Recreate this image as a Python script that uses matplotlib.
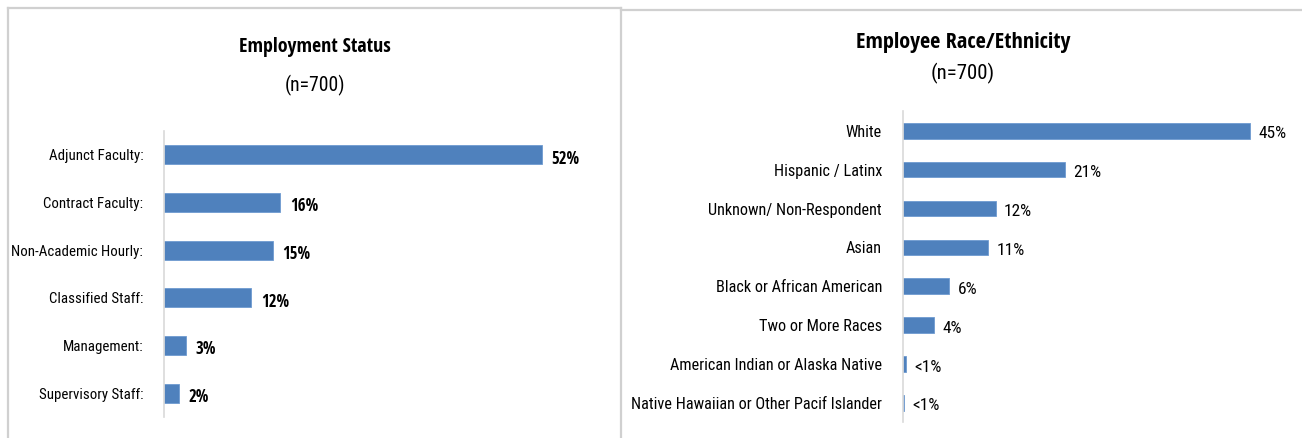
import matplotlib
matplotlib.use("Agg")
import math
import matplotlib.pyplot as plt
from matplotlib import font_manager
from matplotlib.font_manager import FontProperties
from matplotlib.lines import Line2D

# data
status_labels = ["Adjunct Faculty:", "Contract Faculty:", "Non-Academic Hourly:",
                 "Classified Staff:", "Management:", "Supervisory Staff:"]
status_values = [52, 16, 15, 12, 3, 2]
status_text = ["52%", "16%", "15%", "12%", "3%", "2%"]

race_labels = ["White", "Hispanic / Latinx", "Unknown/ Non-Respondent", "Asian",
               "Black or African American", "Two or More Races",
               "American Indian or Alaska Native", "Native Hawaiian or Other Pacif Islander"]
race_values = [45, 21, 12, 11, 6, 4, 0.4, 0.15]
race_text = ["45%", "21%", "12%", "11%", "6%", "4%", "<1%", "<1%"]

bar_color = "#4F81BD"
axis_grey = "#d9d9d9"

fig = plt.figure(figsize=(13.02, 4.38), dpi=100)
rend = fig.canvas.get_renderer()


def wt(f):
    w = f.weight
    if isinstance(w, str):
        w = {"normal": 400, "regular": 400, "book": 400, "bold": 700}.get(w, 500)
    return w


# only plain sans families (and their narrow / condensed cuts)
bases = ("Liberation Sans", "DejaVu Sans", "Noto Sans", "Roboto", "Open Sans", "Lato", "Inter")


def ok_name(n):
    if n in bases:
        return True
    return n.startswith(bases) and ("Condensed" in n or "Narrow" in n) and "Mono" not in n


fonts = font_manager.fontManager.ttflist
pool = [f for f in fonts if f.style == "normal" and ok_name(f.name)
        and f.fname.lower().endswith((".ttf", ".otf"))]
regs = [f for f in pool if wt(f) == 400]
bolds = [f for f in pool if wt(f) == 700]


def width_at10(s, fname):
    t = fig.text(0, 0, s, fontproperties=FontProperties(fname=fname, size=10))
    w = t.get_window_extent(rend).width
    t.remove()
    return w


def pick(cands, s, px, target, fallback):
    # font whose width-fitted size is closest to the size read from the cap height
    best, best_d = fallback, 1e9
    for f in cands:
        try:
            w = width_at10(s, f.fname)
        except Exception:
            continue
        if w <= 0:
            continue
        d = abs(math.log(10 * px / w / target))
        if d < best_d:
            best, best_d = f.fname, d
    return best


dv = font_manager.findfont("DejaVu Sans")
dvb = font_manager.findfont(FontProperties(family="DejaVu Sans", weight="bold"))
reg_file = pick(regs, "Non-Academic Hourly:", 130, 12.5, dv)
bold_file = pick(bolds, "Employment Status", 151, 15.5, dvb)


def fitprops(fname, s, px, cap):
    size = min(10 * px / width_at10(s, fname), cap)
    return FontProperties(fname=fname, size=size)


lab1 = fitprops(reg_file, "Non-Academic Hourly:", 130, 13)
lab2 = fitprops(reg_file, "Native Hawaiian or Other Pacif Islander", 251, 13)
val1 = fitprops(bold_file, "52%", 28, 12.5)
val2 = fitprops(reg_file, "45%", 28, 12.5)
tit1 = fitprops(bold_file, "Employment Status", 151, 17)
tit2 = fitprops(bold_file, "Employee Race/Ethnicity", 214, 17)
sub1 = fitprops(reg_file, "(n=700)", 60, 16)
sub2 = fitprops(reg_file, "(n=700)", 64, 16)


def hbar(ax, labels, values, texts, xmax, lprop, vprop):
    y = list(range(len(labels)))
    ax.barh(y, values, height=0.4, color=bar_color, edgecolor="#6f9bd0", linewidth=0.6)
    ax.set_ylim(len(labels) - 0.5, -0.5)
    ax.set_xlim(0, xmax)
    ax.set_yticks(y)
    ax.set_yticklabels(labels, fontproperties=lprop)
    ax.tick_params(axis="y", length=0, pad=15)
    ax.set_xticks([])
    for s in ["top", "right", "bottom"]:
        ax.spines[s].set_visible(False)
    ax.spines["left"].set_color(axis_grey)
    ax.spines["left"].set_linewidth(1.2)
    for yi, v, t in zip(y, values, texts):
        ax.text(v + xmax * 0.022, yi + 0.08, t, va="center", ha="left", fontproperties=vprop)


ax1 = fig.add_axes([0.126, 0.048, 0.335, 0.653])
hbar(ax1, status_labels, status_values, status_text, 60, lab1, val1)

ax2 = fig.add_axes([0.6935, 0.036, 0.2965, 0.7096])
hbar(ax2, race_labels, race_values, race_text, 50, lab2, val2)

fig.text(0.2420, 0.893, "Employment Status", ha="center", va="center", fontproperties=tit1)
fig.text(0.2420, 0.806, "(n=700)", ha="center", va="center", fontproperties=sub1)
fig.text(0.7396, 0.904, "Employee Race/Ethnicity", ha="center", va="center", fontproperties=tit2)
fig.text(0.7396, 0.833, "(n=700)", ha="center", va="center", fontproperties=sub2)

# panel borders
border = dict(color="#d0d0d0", linewidth=1.6, transform=fig.transFigure)
fig.add_artist(Line2D([0.0061, 0.477], [0.9817, 0.9817], **border))
fig.add_artist(Line2D([0.477, 1.0], [0.977, 0.977], **border))
fig.add_artist(Line2D([0.0061, 0.0061], [0.9817, 0.0], **border))
fig.add_artist(Line2D([0.477, 0.477], [0.9817, 0.0], **border))

fig.savefig("out.png", dpi=100)
